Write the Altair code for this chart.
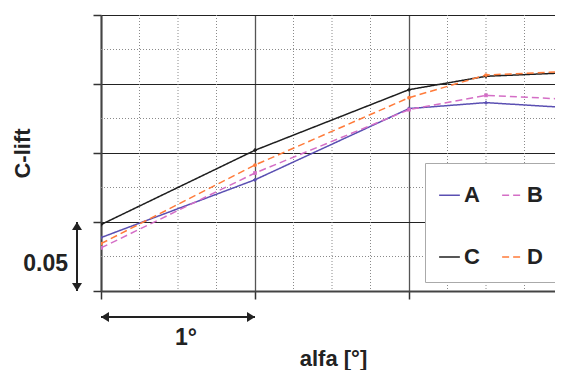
import altair as alt
import pandas as pd

# ---- data ----
alfa = [0, 1, 2, 2.5, 3]
series_names = ["A", "B", "C", "D"]
c_lift_A = [0.0387, 0.0806, 0.1322, 0.1365, 0.1331]
c_lift_B = [0.0312, 0.0855, 0.1314, 0.1418, 0.1391]
c_lift_C = [0.0481, 0.1020, 0.1459, 0.1556, 0.1580]
c_lift_D = [0.0343, 0.0913, 0.1401, 0.1565, 0.1590]

series_colors = ["#5a4fb2", "#d46ec6", "#1e1e1e", "#ff7b3a"]
series_dash = [[1, 0], [7, 4], [1, 0], [7, 4]]
series_shapes = ["cross", "square", "cross", "circle"]

x_major = [0, 1, 2]
x_minor = [0.25, 0.5, 0.75, 1.25, 1.5, 1.75, 2.25, 2.5, 2.75]
y_major = [0, 0.05, 0.1, 0.15, 0.2]
y_minor = [0.025, 0.075, 0.125, 0.175]

scale_bar_y = [0, 0.05]   # vertical "0.05" arrow
scale_bar_x = [0, 1]      # horizontal "1°" arrow

FONT = "Arial"

# the page only shows 454 of the 462 px that alfa 0..3 would take
PLOT_W = 454
X_MAX = 3 * PLOT_W / 462

rows = []
for name, vals in zip(series_names, [c_lift_A, c_lift_B, c_lift_C, c_lift_D]):
    for a, v in zip(alfa, vals):
        rows.append({"alfa": a, "clift": v, "series": name})
df = pd.DataFrame(rows)

xscale = alt.Scale(domain=[0, X_MAX], nice=False, zero=False)
yscale = alt.Scale(domain=[0, 0.2], nice=False, zero=False)
color_scale = alt.Scale(domain=series_names, range=series_colors)
dash_scale = alt.Scale(domain=series_names, range=series_dash)

x_axis = alt.Axis(values=x_major, grid=True, gridColor="#555555", gridWidth=1.3,
                  labels=False, ticks=True, tickSize=8, tickColor="#333333", tickWidth=1.5,
                  domainColor="#444444", domainWidth=2,
                  title="alfa [°]", titleFont=FONT, titleFontSize=22, titleFontWeight="bold",
                  titleColor="#222222", titleX=232, titleY=74, titleBaseline="alphabetic")
y_axis = alt.Axis(values=y_major, grid=True, gridColor="#222222", gridWidth=1,
                  labels=False, ticks=True, tickSize=8, tickColor="#333333", tickWidth=1.5,
                  domainColor="#444444", domainWidth=2,
                  title="C-lift", titleFont=FONT, titleFontSize=22, titleFontWeight="bold",
                  titleColor="#222222", titleX=-72, titleY=138, titleAngle=270,
                  titleAlign="center", titleBaseline="alphabetic")

legend = alt.Legend(
    title=" ", titleFontSize=1, titlePadding=6.6,
    orient="none", legendX=324, legendY=148, columns=2, direction="horizontal",
    symbolType="stroke", symbolSize=430, symbolStrokeWidth=1.5,
    labelFont=FONT, labelFontSize=22, labelFontWeight="bold", labelColor="#222222",
    labelOffset=3, columnPadding=19, rowPadding=39, padding=13,
    fillColor="white", strokeColor="#aaaaaa")

minor_x = alt.Chart(pd.DataFrame({"v": x_minor})).mark_rule(
    color="#8a8a8a", strokeDash=[1, 2], strokeWidth=1
).encode(x=alt.X("v:Q", scale=xscale, axis=x_axis))

minor_y = alt.Chart(pd.DataFrame({"v": y_minor})).mark_rule(
    color="#8a8a8a", strokeDash=[1, 2], strokeWidth=1
).encode(y=alt.Y("v:Q", scale=yscale, axis=y_axis))

lines = alt.Chart(df).mark_line(strokeWidth=1.5, clip=True).encode(
    x=alt.X("alfa:Q", scale=xscale, axis=x_axis),
    y=alt.Y("clift:Q", scale=yscale, axis=y_axis),
    color=alt.Color("series:N", scale=color_scale, legend=legend),
    strokeDash=alt.StrokeDash("series:N", scale=dash_scale, legend=legend),
)

point_layers = []
for name, col, shp in zip(series_names, series_colors, series_shapes):
    point_layers.append(
        alt.Chart(df).transform_filter(alt.datum.series == name).mark_point(
            filled=True, size=14, opacity=1, clip=True, color=col, shape=shp
        ).encode(
            x=alt.X("alfa:Q", scale=xscale, axis=x_axis),
            y=alt.Y("clift:Q", scale=yscale, axis=y_axis),
        )
    )

# ---- scale-bar annotations ----
vbar_df = pd.DataFrame({"y0": [scale_bar_y[0]], "y1": [scale_bar_y[1]]})
hbar_df = pd.DataFrame({"x0": [scale_bar_x[0]], "x1": [scale_bar_x[1]]})

v_rule = alt.Chart(vbar_df).mark_rule(color="#222222", strokeWidth=2).encode(
    x=alt.value(-24), y=alt.Y("y0:Q", scale=yscale, axis=y_axis), y2="y1:Q")
v_up = alt.Chart(vbar_df).mark_point(shape="M0,0L-1,1.6L1,1.6Z", filled=True, size=100,
                                     color="#222222", opacity=1).encode(
    x=alt.value(-24), y=alt.Y("y1:Q", scale=yscale, axis=y_axis))
v_down = alt.Chart(vbar_df).mark_point(shape="M0,0L-1,-1.6L1,-1.6Z", filled=True, size=100,
                                       color="#222222", opacity=1).encode(
    x=alt.value(-24), y=alt.Y("y0:Q", scale=yscale, axis=y_axis))
v_text = alt.Chart(vbar_df).transform_calculate(ym="(datum.y0 + datum.y1) / 2").mark_text(
    text="0.05", font=FONT, fontSize=23, fontWeight="bold", color="#222222",
    align="right", baseline="middle", dy=7).encode(
    x=alt.value(-33), y=alt.Y("ym:Q", scale=yscale, axis=y_axis))

h_rule = alt.Chart(hbar_df).mark_rule(color="#222222", strokeWidth=2).encode(
    y=alt.value(302), x=alt.X("x0:Q", scale=xscale, axis=x_axis), x2="x1:Q")
h_left = alt.Chart(hbar_df).mark_point(shape="M0,0L1.6,-1L1.6,1Z", filled=True, size=100,
                                       color="#222222", opacity=1).encode(
    y=alt.value(302), x=alt.X("x0:Q", scale=xscale, axis=x_axis))
h_right = alt.Chart(hbar_df).mark_point(shape="M0,0L-1.6,-1L-1.6,1Z", filled=True, size=100,
                                        color="#222222", opacity=1).encode(
    y=alt.value(302), x=alt.X("x1:Q", scale=xscale, axis=x_axis))
h_text = alt.Chart(hbar_df).transform_calculate(xm="(datum.x0 + datum.x1) / 2").mark_text(
    text="1°", font=FONT, fontSize=23, fontWeight="bold", color="#222222",
    align="center", baseline="middle", dx=8).encode(
    y=alt.value(323), x=alt.X("xm:Q", scale=xscale, axis=x_axis))

chart = alt.layer(
    minor_x, minor_y, lines, *point_layers,
    v_rule, v_up, v_down, v_text, h_rule, h_left, h_right, h_text
).properties(
    width=PLOT_W, height=276,
    autosize=alt.AutoSizeParams(type="none"),
    padding={"left": 93, "top": 7, "right": 0, "bottom": 80},
    background="white",
).configure_view(stroke=None)

chart.save("out.html", embed_options={"renderer": "svg", "actions": False})
